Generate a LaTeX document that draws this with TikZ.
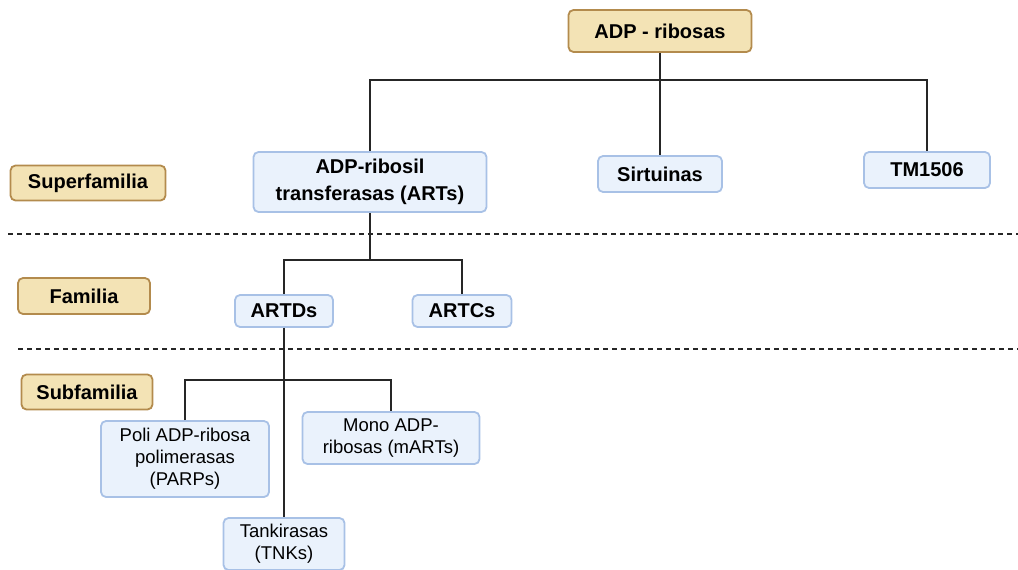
\documentclass[tikz,border=0pt]{standalone}
\usepackage{fontspec}
\setmainfont{Liberation Sans}
\usetikzlibrary{positioning}
\definecolor{arena}{HTML}{F3E3B5}
\definecolor{arenaborde}{HTML}{B38B4D}
\definecolor{celeste}{HTML}{EAF2FC}
\definecolor{celesteborde}{HTML}{A8C1E6}
\tikzset{
	x=1pt, y=-1pt, % Coordenadas en pixeles
	nivel/.style={draw=arenaborde, fill=arena, line width=1.8pt, rounded corners=5pt,
		font=\fontsize{20}{24}\selectfont\bfseries, inner sep=0pt}, % Etiquetas de nivel
	grupo/.style={draw=celesteborde, fill=celeste, line width=1.8pt, rounded corners=5pt,
		font=\fontsize{20}{27}\selectfont\bfseries, align=center, inner sep=0pt}, % Grupos principales
	sub/.style={grupo, font=\fontsize{18.5}{22}\selectfont}, % Subgrupos
	rama/.style={line width=1.6pt, black!85}, % Lineas del arbol
	corte/.style={line width=1.6pt, dash pattern=on 5pt off 4pt, black!85} % Separadores
}

\begin{document}
\begin{tikzpicture}
	\useasboundingbox (0,0) rectangle (1018,570);
	% Separadores
	\draw[corte] (8,234) -- (1018,234);
	\draw[corte] (18,349) -- (1018,349);
	% Ramas
	\coordinate (r1) at (660,80);
	\coordinate (r2) at (370,260);
	\coordinate (r3) at (284,380);
	% Nodos
	\node[nivel, minimum width=183pt, minimum height=42pt] (ADP) at (660,31) {ADP - ribosas};
	\node[nivel, minimum width=155pt, minimum height=35pt] (super) at (88,183) {Superfamilia};
	\node[nivel, minimum width=132pt, minimum height=36pt] (fam) at (84,296) {Familia};
	\node[nivel, minimum width=131pt, minimum height=35pt] (subf) at (87,392) {Subfamilia};
	\node[grupo, minimum width=233pt, minimum height=60pt] (ARTs) at (370,182) {ADP-ribosil\\transferasas (ARTs)};
	\node[grupo, minimum width=124pt, minimum height=36pt] (sirt) at (660,174) {Sirtuinas};
	\node[grupo, minimum width=126pt, minimum height=36pt] (TM) at (927,170) {TM1506};
	\node[grupo, minimum width=98pt, minimum height=32pt] (ARTDs) at (284,311) {ARTDs};
	\node[grupo, minimum width=99pt, minimum height=32pt] (ARTCs) at (462,311) {ARTCs};
	\node[sub, minimum width=168pt, minimum height=76pt] (PARPs) at (185,459) {Poli ADP-ribosa\\polimerasas\\(PARPs)};
	\node[sub, minimum width=177pt, minimum height=52pt] (mARTs) at (391,438) {Mono ADP-\\ribosas (mARTs)};
	\node[sub, minimum width=121pt, minimum height=52pt] (TNKs) at (284,544) {Tankirasas\\(TNKs)};
	% Conexiones
	\draw[rama] (ADP.south) -- (sirt.north);
	\draw[rama] (ARTs.north) |- (r1) -| (TM.north);
	\draw[rama] (ARTs.south) -- (r2);
	\draw[rama] (ARTDs.north) |- (r2) -| (ARTCs.north);
	\draw[rama] (ARTDs.south) -- (TNKs.north);
	\draw[rama] (PARPs.north) |- (r3) -| (mARTs.north);
\end{tikzpicture}
\end{document}
